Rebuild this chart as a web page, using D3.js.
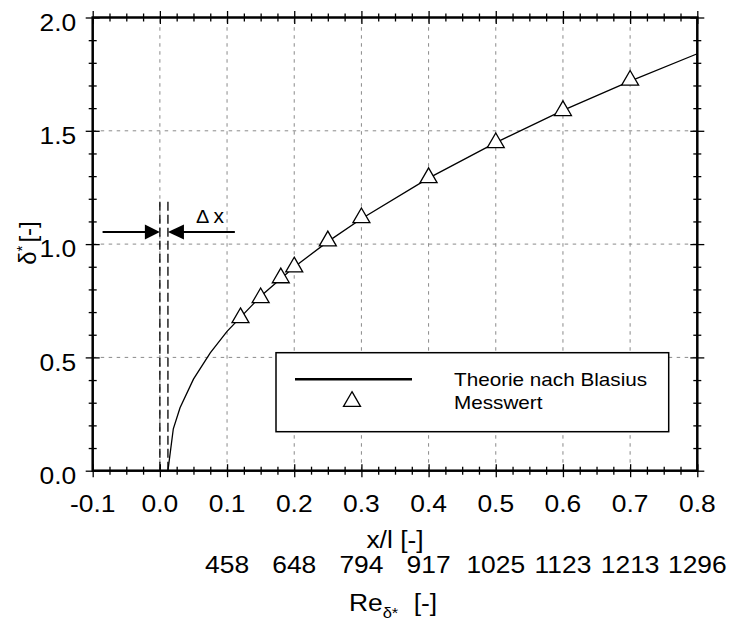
<!DOCTYPE html>
<html>
<head>
<meta charset="utf-8">
<script src="https://cdn.jsdelivr.net/npm/d3@7"></script>
<style>
    body { margin: 0; background: #fff; }
    svg text { font-family: "Liberation Sans", Arial, sans-serif; fill: #000; }
    .grid line { stroke: #8a8a8a; stroke-width: 1; stroke-dasharray: 3.5, 4.5; }
    .ticks .tick line { stroke: #000; stroke-width: 1.3; }
    .ticks path.domain { display: none; }
</style>
</head>
<body>
<div id="chart"></div>
<script>
    // Blasius theory curve
    const curveX = [0.012, 0.02, 0.03, 0.05, 0.075, 0.1, 0.15, 0.2, 0.25, 0.3, 0.4, 0.5, 0.6, 0.7, 0.8];
    const curveY = [0, 0.185, 0.278, 0.404, 0.520, 0.615, 0.770, 0.899, 1.011, 1.112, 1.291, 1.448, 1.590, 1.719, 1.840];

    // measured values
    const measX = [0.12, 0.15, 0.18, 0.2, 0.25, 0.3, 0.4, 0.5, 0.6, 0.7];
    const measY = [0.675, 0.763, 0.851, 0.899, 1.014, 1.116, 1.293, 1.447, 1.589, 1.723];

    const xTicks = [-0.1, 0, 0.1, 0.2, 0.3, 0.4, 0.5, 0.6, 0.7, 0.8];
    const yTicks = [0, 0.5, 1.0, 1.5, 2.0];
    const reTicks = [0.1, 0.2, 0.3, 0.4, 0.5, 0.6, 0.7, 0.8];
    const reLabels = ["458", "648", "794", "917", "1025", "1123", "1213", "1296"];

    // leading edge offset (delta x) annotation
    const edgeX = [0, 0.012];
    const edgeTop = 1.205;
    const arrowY = 1.053;

    const width = 730, height = 620;
    const sx = 1.1; // glyphs in the original are a bit wide

    const x = d3.scaleLinear().domain([-0.1, 0.8]).range([92.7, 697.3]);
    const y = d3.scaleLinear().domain([0, 2]).range([470.7, 17.5]);

    const xMinor = d3.range(-0.1, 0.8001, 0.025).filter(v => Math.abs(v * 10 - Math.round(v * 10)) > 1e-6);
    const yMinor = d3.range(0, 2.0001, 0.1).filter(v => Math.abs(v * 2 - Math.round(v * 2)) > 1e-6);

    const svg = d3.select("#chart").append("svg")
        .attr("width", width)
        .attr("height", height);

    function label(g, px, py, str, size, anchor, scale) {
        return g.append("text")
            .attr("transform", `translate(${px},${py}) scale(${scale || sx},1)`)
            .attr("text-anchor", anchor || "start")
            .style("font-size", size + "px")
            .text(str);
    }

    // grid
    const grid = svg.append("g").attr("class", "grid");
    grid.selectAll("line.v")
        .data(xTicks.slice(1, -1))
        .enter().append("line")
        .attr("x1", d => x(d)).attr("x2", d => x(d))
        .attr("y1", y(0)).attr("y2", y(2));
    grid.selectAll("line.h")
        .data(yTicks.slice(1, -1))
        .enter().append("line")
        .attr("x1", x(-0.1)).attr("x2", x(0.8))
        .attr("y1", d => y(d)).attr("y2", d => y(d));

    // dashed verticals at the leading edge
    svg.append("g").selectAll("line")
        .data(edgeX)
        .enter().append("line")
        .attr("x1", d => x(d)).attr("x2", d => x(d))
        .attr("y1", y(0)).attr("y2", y(edgeTop))
        .attr("stroke", "#000")
        .attr("stroke-width", 1.3)
        .attr("stroke-dasharray", "9,4");

    // theory curve
    const line = d3.line()
        .x((d, i) => x(curveX[i]))
        .y(d => y(d));
    svg.append("path")
        .datum(curveY)
        .attr("fill", "none")
        .attr("stroke", "#000")
        .attr("stroke-width", 1.3)
        .attr("d", line);

    // measurement markers
    const tri = d3.symbol().type(d3.symbolTriangle).size(125);
    svg.append("g").selectAll("path")
        .data(measY)
        .enter().append("path")
        .attr("d", tri)
        .attr("transform", (d, i) => `translate(${x(measX[i])},${y(d)})`)
        .attr("fill", "#fff")
        .attr("stroke", "#000")
        .attr("stroke-width", 1.3);

    // arrows
    const ay = y(arrowY);
    const arrows = svg.append("g");
    arrows.append("line")
        .attr("x1", x(-0.0853)).attr("x2", x(0) - 14)
        .attr("y1", ay).attr("y2", ay)
        .attr("stroke", "#000").attr("stroke-width", 2);
    arrows.append("path")
        .attr("d", `M${x(0)},${ay} L${x(0) - 15},${ay - 7.5} L${x(0) - 15},${ay + 7.5} Z`)
        .attr("fill", "#000");
    arrows.append("line")
        .attr("x1", x(0.012) + 15).attr("x2", x(0.1116))
        .attr("y1", ay).attr("y2", ay)
        .attr("stroke", "#000").attr("stroke-width", 2);
    arrows.append("path")
        .attr("d", `M${x(0.012)},${ay} L${x(0.012) + 16},${ay - 7.5} L${x(0.012) + 16},${ay + 7.5} Z`)
        .attr("fill", "#000");
    const dx = label(arrows, 196, ay - 9.5, "", 20, "start", 1.05);
    dx.append("tspan").text("Δ").style("font-size", "19px");
    dx.append("tspan").attr("dx", 4).text("x");

    // legend
    const legend = svg.append("g");
    legend.append("rect")
        .attr("x", 276).attr("y", 352.7)
        .attr("width", 392.7).attr("height", 79)
        .attr("fill", "#fff")
        .attr("stroke", "#000")
        .attr("stroke-width", 1.5);
    legend.append("line")
        .attr("x1", 295).attr("x2", 412)
        .attr("y1", 379.3).attr("y2", 379.3)
        .attr("stroke", "#000").attr("stroke-width", 2.5);
    legend.append("path")
        .attr("d", tri)
        .attr("transform", "translate(352,401.5)")
        .attr("fill", "#fff")
        .attr("stroke", "#000")
        .attr("stroke-width", 1.3);
    label(legend, 454, 385.7, "Theorie nach Blasius", 18, "start", 1.15);
    label(legend, 454, 409.3, "Messwert", 18, "start", 1.15);

    // frame with crossing ticks on all four sides
    function ticks(axis, tx, ty, values, size, vertical) {
        const g = svg.append("g")
            .attr("class", "ticks")
            .attr("transform", `translate(${tx},${ty})`)
            .call(axis.tickValues(values).tickSize(size).tickSizeOuter(0).tickFormat(""));
        if (vertical) g.selectAll(".tick line").attr("x1", size).attr("x2", -size);
        else g.selectAll(".tick line").attr("y1", size).attr("y2", -size);
        return g;
    }
    ticks(d3.axisBottom(x), 0, y(0), xMinor, 4, false);
    ticks(d3.axisBottom(x), 0, y(0), xTicks, 6.5, false);
    ticks(d3.axisTop(x), 0, y(2), xMinor, 4, false);
    ticks(d3.axisTop(x), 0, y(2), xTicks, 6.5, false);
    ticks(d3.axisLeft(y), x(-0.1), 0, yMinor, 4, true);
    ticks(d3.axisLeft(y), x(-0.1), 0, yTicks, 7, true);
    ticks(d3.axisRight(y), x(0.8), 0, yMinor, 4, true);
    ticks(d3.axisRight(y), x(0.8), 0, yTicks, 7, true);

    svg.append("rect")
        .attr("x", x(-0.1)).attr("y", y(2))
        .attr("width", x(0.8) - x(-0.1)).attr("height", y(0) - y(2))
        .attr("fill", "none")
        .attr("stroke", "#000")
        .attr("stroke-width", 2.5);

    // tick labels
    const labels = svg.append("g");
    xTicks.forEach(v => label(labels, x(v), 512, v.toFixed(1), 24, "middle"));
    yTicks.forEach(v => label(labels, x(-0.1) - 16.5, y(v) + 13.3, v.toFixed(1), 24, "end"));
    reTicks.forEach((v, i) => label(labels, x(v), 573, reLabels[i], 24, "middle"));

    // axis titles
    label(labels, 395, 548, "x/l [-]", 24, "middle");
    const re = label(labels, 393, 611, "Re", 24, "middle");
    re.append("tspan").attr("dy", 7).style("font-size", "15px").text("δ*");
    re.append("tspan").attr("dy", -7).attr("dx", 14).text("[-]");

    const yl = svg.append("text")
        .attr("transform", "translate(36,243) rotate(-90)")
        .attr("text-anchor", "middle")
        .style("font-size", "24px");
    yl.append("tspan").text("δ");
    yl.append("tspan").attr("dy", -9).style("font-size", "15px").text("*");
    yl.append("tspan").attr("dy", 9).attr("dx", 3).text("[-]");
</script>
</body>
</html>
